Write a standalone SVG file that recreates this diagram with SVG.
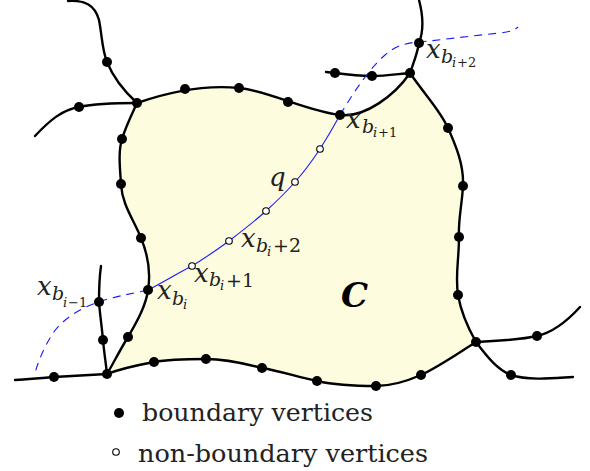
<svg xmlns="http://www.w3.org/2000/svg" width="590" height="471" viewBox="0 0 590 471">
<style>
.edge{fill:none;stroke:#000;stroke-width:2.4;stroke-linecap:round;stroke-linejoin:round}
.blue{fill:none;stroke:#1a1aff;stroke-width:1.1}
.dash{stroke-dasharray:8,6}
.bd{fill:#000}
.nb{fill:#fff;stroke:#000;stroke-width:1.1}
</style>
<g id="region-C">
<path d="M137,103 C160,95 200,84 239,88 C265,90 310,112 340,115 C365,118 395,95 410,73 C425,95 440,110 448,128 C456,146 464,165 463,186 C462,205 458,220 459,237 C459,260 455,275 458,295 C461,312 468,328 476,342 C460,352 440,366 421,375 C405,382 390,386 376,386 C355,386 335,385 317,381 C298,377 280,371 262,368 C243,363 225,359 206,359 C188,359 170,359 154,362 C138,365 120,369 107,374 C114,362 120,350 128,337 C138,320 146,305 148,290 C151,272 148,255 141,238 C134,220 122,205 121,184 C120,168 118,152 122,139 C126,126 132,114 137,103 Z" fill="#fdfcdf" stroke="#000" stroke-width="2.4" stroke-linejoin="round"/>
</g>
<g id="connectors">
<path class="edge" d="M68,1 C85,0 95,5 99,20 C102,35 102,50 107,62 C113,77 125,92 137,103"/>
<path class="edge" d="M35,136 C50,120 62,110 79,107 C98,103 120,103 137,103"/>
<path class="edge" d="M419,0 C423,15 424,30 419,43 C417,55 413,64 410,73"/>
<path class="edge" d="M326,72 L335,73 C350,75 360,76 372,76 C385,76 398,74 410,73"/>
<path class="edge" d="M476,342 C495,341 520,340 537,336 C555,332 570,318 580,307"/>
<path class="edge" d="M476,342 C488,358 498,370 511,375 C530,381 555,378 573,377"/>
<path class="edge" d="M15,380 C30,379 42,378 54,377 C72,376 90,375 107,374"/>
<path class="edge" d="M101,266 C99,280 99,290 99,302 C100,315 102,328 103,340 C104,352 106,364 107,374"/>
<path class="blue" d="M148,290 C162,283 178,273 192,266 C205,258 218,249 229,241 C242,231 255,221 266,211 C277,201 287,191 295,182 C304,172 312,161 320,149 C327,138 334,126 340,115"/>
<path class="blue dash" d="M340,115 C355,90 370,68 385,55 C395,46 405,43 419,42 C440,40 470,36 500,33 C510,32 515,30 518,27"/>
<path class="blue dash" d="M148,290 C130,294 112,297 99,302 C80,308 60,320 50,338 C43,350 38,362 35,373"/>
</g>
<g id="boundary-vertices">
<circle class="bd" cx="137" cy="103" r="5"/>
<circle class="bd" cx="185" cy="89" r="5"/>
<circle class="bd" cx="239" cy="88" r="5"/>
<circle class="bd" cx="288" cy="102" r="5"/>
<circle class="bd" cx="340" cy="115" r="5"/>
<circle class="bd" cx="410" cy="73" r="5"/>
<circle class="bd" cx="448" cy="128" r="5"/>
<circle class="bd" cx="463" cy="186" r="5"/>
<circle class="bd" cx="459" cy="237" r="5"/>
<circle class="bd" cx="458" cy="295" r="5"/>
<circle class="bd" cx="476" cy="342" r="5"/>
<circle class="bd" cx="421" cy="375" r="5"/>
<circle class="bd" cx="376" cy="386" r="5"/>
<circle class="bd" cx="317" cy="381" r="5"/>
<circle class="bd" cx="262" cy="368" r="5"/>
<circle class="bd" cx="206" cy="359" r="5"/>
<circle class="bd" cx="154" cy="362" r="5"/>
<circle class="bd" cx="107" cy="374" r="5"/>
<circle class="bd" cx="128" cy="337" r="5"/>
<circle class="bd" cx="148" cy="290" r="5"/>
<circle class="bd" cx="141" cy="238" r="5"/>
<circle class="bd" cx="121" cy="184" r="5"/>
<circle class="bd" cx="122" cy="139" r="5"/>
<circle class="bd" cx="107" cy="62" r="5"/>
<circle class="bd" cx="79" cy="107" r="5"/>
<circle class="bd" cx="419" cy="43" r="5"/>
<circle class="bd" cx="335" cy="73" r="5"/>
<circle class="bd" cx="372" cy="76" r="5"/>
<circle class="bd" cx="537" cy="336" r="5"/>
<circle class="bd" cx="511" cy="375" r="5"/>
<circle class="bd" cx="54" cy="377" r="5"/>
<circle class="bd" cx="99" cy="302" r="5"/>
<circle class="bd" cx="103" cy="340" r="5"/>
</g>
<g id="inner-vertices">
<circle class="nb" cx="192" cy="266" r="3.3"/>
<circle class="nb" cx="229" cy="241" r="3.3"/>
<circle class="nb" cx="266" cy="211" r="3.3"/>
<circle class="nb" cx="295" cy="182" r="3.3"/>
<circle class="nb" cx="320" cy="149" r="3.3"/>
</g>
<g id="labels" font-family="DejaVu Serif, serif" font-style="italic" fill="#222">
<text x="346" y="128" font-size="26">x</text><text x="362" y="133" font-size="19">b</text><text x="373" y="137" font-size="13">i</text><text x="378" y="137" font-size="13" font-style="normal">+1</text>
<text x="426" y="58" font-size="26">x</text><text x="441" y="63" font-size="19">b</text><text x="452" y="67" font-size="13">i</text><text x="457" y="67" font-size="13" font-style="normal">+2</text>
<text x="37" y="295" font-size="26">x</text><text x="52" y="300" font-size="19">b</text><text x="63" y="307" font-size="13">i</text><text x="68" y="307" font-size="13" font-style="normal">−1</text>
<text x="157" y="299" font-size="26">x</text><text x="172" y="305" font-size="19">b</text><text x="183" y="309" font-size="13">i</text>
<text x="194" y="282" font-size="26">x</text><text x="209" y="286" font-size="19">b</text><text x="220" y="290" font-size="13">i</text><text x="226" y="287" font-size="19" font-style="normal">+1</text>
<text x="241" y="247" font-size="26">x</text><text x="256" y="252" font-size="19">b</text><text x="267" y="256" font-size="13">i</text><text x="273" y="252" font-size="19" font-style="normal">+2</text>
<text x="269" y="186" font-size="26">q</text>
<text x="341" y="307" font-size="34" font-weight="bold" fill="#000">C</text>
</g>
<g id="legend" font-family="DejaVu Serif, serif" font-size="24" fill="#222">
<circle class="bd" cx="119" cy="413" r="5"/>
<text x="142" y="421" textLength="231" lengthAdjust="spacingAndGlyphs">boundary vertices</text>
<circle class="nb" cx="116" cy="452" r="3.3"/>
<text x="138" y="462" textLength="290" lengthAdjust="spacingAndGlyphs">non-boundary vertices</text>
</g>
</svg>
